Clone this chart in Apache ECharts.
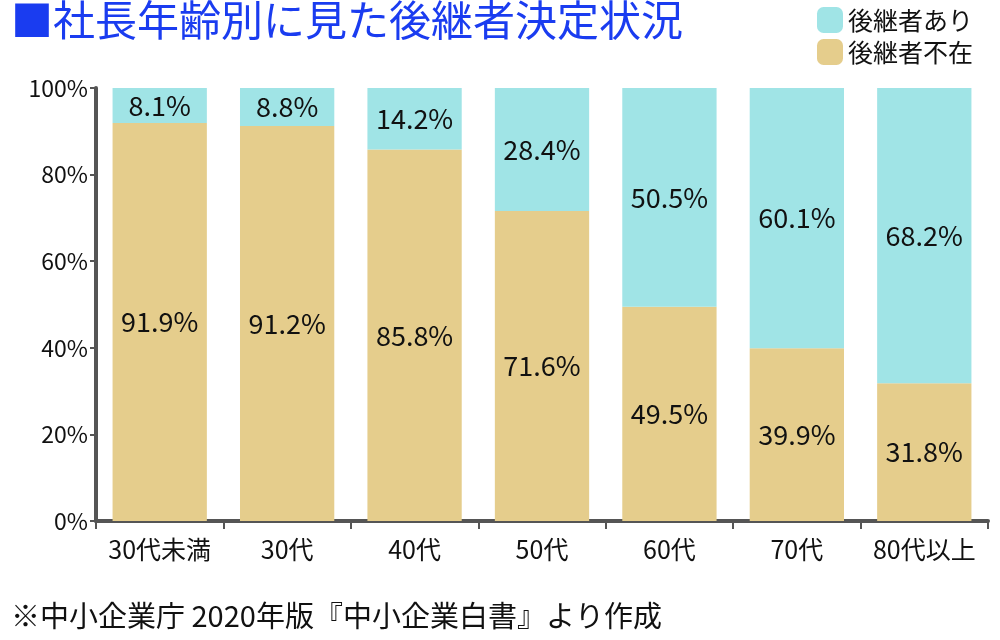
<!DOCTYPE html>
<html><head><meta charset="utf-8">
<script src="https://cdn.jsdelivr.net/npm/echarts@6/dist/echarts.min.js"></script>
<style>html,body{margin:0;background:#fff}#c{width:1000px;height:640px}</style>
</head><body><div id="c"></div>
<script>
const categories=['30代未満','30代','40代','50代','60代','70代','80代以上'];
const ari=[8.1,8.8,14.2,28.4,50.5,60.1,68.2];
const fuzai=[91.9,91.2,85.8,71.6,49.5,39.9,31.8];
const yTicks=[0,20,40,60,80,100];
const chart=echarts.init(document.getElementById('c'));
const F='"Noto Sans CJK JP","Noto Sans",sans-serif';
const lab={show:true,position:'inside',color:'#111',fontSize:27,fontFamily:F,formatter:p=>p.value.toFixed(1)+'%'};
chart.setOption({
 animation:false,
 title:[{text:'■社長年齢別に見た後継者決定状況',left:6,top:-6,textStyle:{color:'#1a3cf0',fontSize:42,fontWeight:'normal',fontFamily:F}},
  {text:'※中小企業庁 2020年版『中小企業白書』より作成',left:6,top:596,textStyle:{color:'#111',fontSize:29,fontWeight:'normal',fontFamily:F}}],
 legend:{orient:'vertical',right:22,top:2,itemWidth:26,itemHeight:26,itemGap:6,textStyle:{fontSize:25,fontFamily:F,color:'#111'},data:['後継者あり','後継者不在']},
 grid:{left:96,right:12,top:88,bottom:119},
 xAxis:{type:'category',data:categories,axisLine:{lineStyle:{color:'#555',width:4}},axisTick:{show:true,lineStyle:{color:'#555',width:2},length:8},
  axisLabel:{interval:0,color:'#111',fontSize:25,fontFamily:F,margin:16}},
 yAxis:{type:'value',min:0,max:100,interval:20,splitLine:{show:false},axisLine:{show:true,lineStyle:{color:'#555',width:4}},
  axisTick:{show:true,lineStyle:{color:'#555',width:2},length:6},axisLabel:{color:'#111',fontSize:23,fontFamily:F,formatter:v=>yTicks.includes(v)?v+'%':''}},
 series:[
  {name:'後継者不在',type:'bar',stack:'a',barWidth:'74%',data:fuzai,itemStyle:{color:'#e5cd8c'},label:lab},
  {name:'後継者あり',type:'bar',stack:'a',data:ari,itemStyle:{color:'#a0e4e6'},label:lab}
 ]
});
</script></body></html>
